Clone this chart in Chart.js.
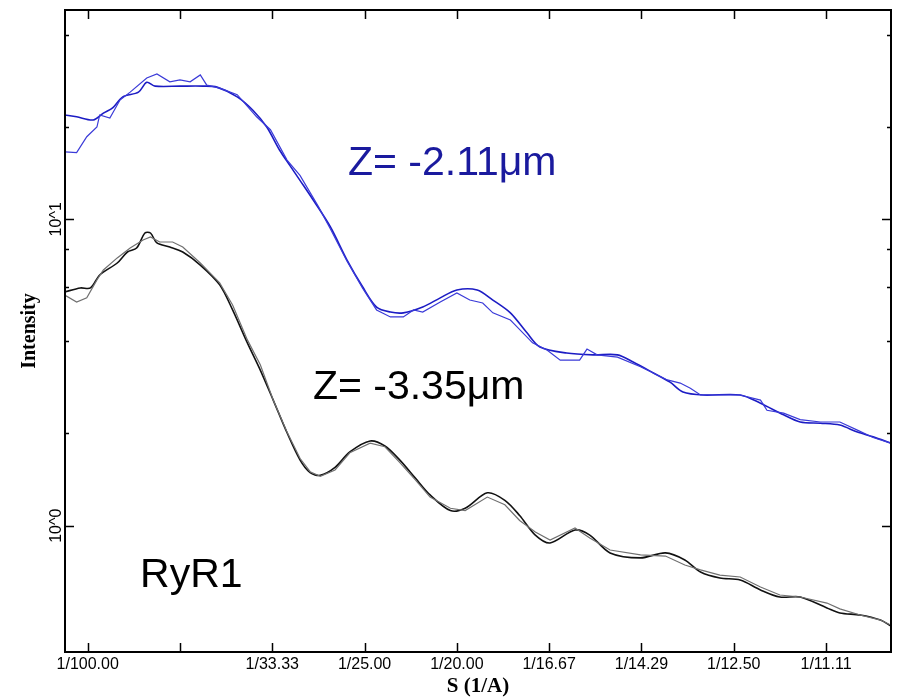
<!DOCTYPE html>
<html>
<head>
<meta charset="utf-8">
<script src="https://cdn.jsdelivr.net/npm/chart.js@4"></script>
<style>
  body { margin: 0; background: #fff; }
  #wrap { width: 899px; height: 699px; }
</style>
</head>
<body>
<div id="wrap"><canvas id="grafico"></canvas></div>
<script>
// S (1/A) e intensidade
const sBlueFit = [0.0075, 0.0088, 0.0106, 0.0117, 0.0127, 0.0138, 0.0155, 0.0164, 0.0173, 0.0200, 0.0225, 0.0240, 0.0262, 0.0279, 0.0294, 0.0308, 0.0319, 0.0330, 0.0344, 0.0363, 0.0381, 0.0398, 0.0413, 0.0428, 0.0442, 0.0463, 0.0482, 0.0500, 0.0522, 0.0539, 0.0558, 0.0576, 0.0590, 0.0619, 0.0648, 0.0674, 0.0691, 0.0713, 0.0731, 0.0745, 0.0767, 0.0807, 0.0829, 0.0854, 0.0872, 0.0894, 0.0915, 0.0934, 0.0951, 0.0970];
const iBlueFit = [21.9, 21.6, 21.1, 22.2, 23.1, 25.1, 26.0, 28.0, 27.2, 27.2, 27.2, 27.0, 25.1, 22.7, 20.0, 16.8, 15.0, 13.4, 11.6, 9.44, 7.36, 6.01, 5.17, 4.98, 4.95, 5.17, 5.54, 5.88, 5.88, 5.45, 4.95, 4.26, 3.83, 3.66, 3.61, 3.61, 3.42, 3.15, 2.94, 2.73, 2.67, 2.67, 2.51, 2.30, 2.18, 2.16, 2.13, 2.02, 1.95, 1.86];

const sBlueData = [0.0075, 0.0088, 0.0099, 0.0110, 0.0113, 0.0124, 0.0135, 0.0146, 0.0164, 0.0175, 0.0189, 0.0200, 0.0211, 0.0222, 0.0229, 0.0243, 0.0262, 0.0283, 0.0298, 0.0316, 0.0330, 0.0350, 0.0363, 0.0381, 0.0398, 0.0413, 0.0428, 0.0442, 0.0453, 0.0463, 0.0482, 0.0500, 0.0514, 0.0528, 0.0539, 0.0558, 0.0561, 0.0582, 0.0598, 0.0612, 0.0633, 0.0641, 0.0652, 0.0674, 0.0699, 0.0728, 0.0742, 0.0753, 0.0764, 0.0807, 0.0829, 0.0836, 0.0854, 0.0872, 0.0894, 0.0915, 0.0934, 0.0951, 0.0970];
const iBlueData = [16.6, 16.5, 18.6, 20.0, 21.9, 21.4, 24.5, 26.0, 28.9, 29.8, 28.1, 28.5, 28.1, 29.6, 27.4, 26.8, 25.5, 21.6, 19.6, 15.6, 13.9, 11.0, 9.3, 7.3, 5.95, 5.06, 4.80, 4.80, 5.06, 4.98, 5.37, 5.75, 5.45, 5.33, 4.95, 4.69, 4.59, 3.95, 3.74, 3.47, 3.47, 3.77, 3.61, 3.55, 3.30, 2.99, 2.92, 2.81, 2.67, 2.67, 2.57, 2.38, 2.33, 2.22, 2.18, 2.18, 2.05, 1.94, 1.86];

const sBlackFit = [0.0075, 0.0092, 0.0103, 0.0113, 0.0132, 0.0143, 0.0153, 0.0162, 0.0168, 0.0175, 0.0189, 0.0203, 0.0222, 0.0243, 0.0257, 0.0273, 0.0287, 0.0301, 0.0316, 0.0330, 0.0341, 0.0352, 0.0368, 0.0384, 0.0406, 0.0422, 0.0438, 0.0455, 0.0471, 0.0493, 0.0509, 0.0533, 0.0552, 0.0568, 0.0585, 0.0601, 0.0628, 0.0644, 0.0666, 0.0699, 0.0726, 0.0747, 0.0764, 0.0785, 0.0807, 0.0829, 0.0850, 0.0872, 0.0901, 0.0915, 0.0937, 0.0959, 0.0970];
const iBlackFit = [5.79, 5.97, 5.97, 6.58, 7.20, 7.82, 8.06, 9.02, 9.02, 8.37, 8.12, 7.82, 7.09, 6.11, 5.06, 3.95, 3.22, 2.57, 2.01, 1.64, 1.49, 1.46, 1.55, 1.74, 1.89, 1.82, 1.64, 1.43, 1.26, 1.12, 1.14, 1.28, 1.21, 1.08, 0.932, 0.878, 0.968, 0.932, 0.815, 0.785, 0.815, 0.773, 0.706, 0.675, 0.665, 0.617, 0.585, 0.585, 0.539, 0.519, 0.511, 0.492, 0.471];

const sGrayData = [0.0075, 0.0088, 0.0099, 0.0110, 0.0117, 0.0132, 0.0146, 0.0160, 0.0168, 0.0178, 0.0192, 0.0203, 0.0222, 0.0243, 0.0257, 0.0273, 0.0287, 0.0301, 0.0316, 0.0330, 0.0341, 0.0352, 0.0368, 0.0384, 0.0406, 0.0422, 0.0438, 0.0455, 0.0471, 0.0493, 0.0509, 0.0533, 0.0552, 0.0568, 0.0585, 0.0601, 0.0628, 0.0644, 0.0666, 0.0699, 0.0726, 0.0747, 0.0764, 0.0785, 0.0807, 0.0829, 0.0850, 0.0872, 0.0901, 0.0915, 0.0937, 0.0959, 0.0970];
const iGrayData = [5.66, 5.37, 5.54, 6.34, 6.83, 7.48, 8.06, 8.56, 8.76, 8.43, 8.43, 8.12, 7.20, 6.20, 5.25, 4.04, 3.35, 2.57, 2.02, 1.66, 1.50, 1.45, 1.52, 1.73, 1.86, 1.81, 1.61, 1.41, 1.24, 1.14, 1.12, 1.24, 1.17, 1.04, 0.954, 0.898, 0.983, 0.912, 0.833, 0.803, 0.796, 0.744, 0.717, 0.690, 0.680, 0.631, 0.594, 0.585, 0.559, 0.535, 0.511, 0.492, 0.474];

// eixos
const xTickVals = [0.01, 0.02, 0.03, 0.04, 0.05, 0.06, 0.07, 0.08, 0.09];
const xTickLabels = ['1/100.00', '', '1/33.33', '1/25.00', '1/20.00', '1/16.67', '1/14.29', '1/12.50', '1/11.11'];
const yMajorVals = [1, 10];
const yMajorLabels = ['10^0', '10^1'];
const yMinorVals = [2, 4, 6, 8, 20, 40];

// textos dentro do gráfico: [texto, S, intensidade, cor]
const notes = [
  ['Z= -2.11\u03bcm', 0.0382, 13.95, '#1a1a9e'],
  ['Z= -3.35\u03bcm', 0.0344, 2.59, '#000000'],
  ['RyR1', 0.01567, 0.631, '#000000']
];

const pts = (xs, ys) => xs.map((x, i) => ({ x: x, y: ys[i] }));

const framePlugin = {
  id: 'frame',
  afterDatasetsDraw(chart) {
    const { ctx, chartArea: a, scales } = chart;
    const xs = scales.x, ys = scales.y;
    ctx.save();
    ctx.strokeStyle = '#000';
    ctx.lineWidth = 2;
    ctx.strokeRect(a.left, a.top, a.right - a.left, a.bottom - a.top);

    ctx.lineWidth = 1.5;
    ctx.beginPath();
    xTickVals.forEach(v => {
      const px = Math.round(xs.getPixelForValue(v)) + 0.5;
      ctx.moveTo(px, a.bottom); ctx.lineTo(px, a.bottom - 9);
      ctx.moveTo(px, a.top); ctx.lineTo(px, a.top + 9);
    });
    yMajorVals.forEach(v => {
      const py = Math.round(ys.getPixelForValue(v)) + 0.5;
      ctx.moveTo(a.left, py); ctx.lineTo(a.left + 9, py);
      ctx.moveTo(a.right, py); ctx.lineTo(a.right - 9, py);
    });
    yMinorVals.forEach(v => {
      const py = Math.round(ys.getPixelForValue(v)) + 0.5;
      ctx.moveTo(a.left, py); ctx.lineTo(a.left + 4, py);
      ctx.moveTo(a.right, py); ctx.lineTo(a.right - 4, py);
    });
    ctx.stroke();

    // rótulos do eixo y, na vertical
    ctx.fillStyle = '#000';
    ctx.font = '16px "Liberation Sans", Arial, sans-serif';
    ctx.textAlign = 'center';
    ctx.textBaseline = 'middle';
    yMajorVals.forEach((v, i) => {
      ctx.save();
      ctx.translate(a.left - 8, ys.getPixelForValue(v));
      ctx.rotate(-Math.PI / 2);
      ctx.fillText(yMajorLabels[i], 0, 0);
      ctx.restore();
    });

    // anotações
    ctx.font = '41px "Liberation Sans", Arial, sans-serif';
    ctx.textAlign = 'left';
    ctx.textBaseline = 'alphabetic';
    notes.forEach(n => {
      ctx.fillStyle = n[3];
      ctx.fillText(n[0], xs.getPixelForValue(n[1]), ys.getPixelForValue(n[2]));
    });
    ctx.restore();
  }
};

const ctx = document.getElementById('grafico').getContext('2d');
const grafico = new Chart(ctx, {
  type: 'line',
  data: {
    datasets: [
      { label: 'Z=-2.11 dados', data: pts(sBlueData, iBlueData), borderColor: '#3a3ad8', borderWidth: 1.2, tension: 0 },
      { label: 'Z=-2.11 ajuste', data: pts(sBlueFit, iBlueFit), borderColor: '#1c1cc4', borderWidth: 1.6, tension: 0.3 },
      { label: 'Z=-3.35 dados', data: pts(sGrayData, iGrayData), borderColor: '#707070', borderWidth: 1.2, tension: 0 },
      { label: 'Z=-3.35 ajuste', data: pts(sBlackFit, iBlackFit), borderColor: '#111111', borderWidth: 1.6, tension: 0.3 }
    ]
  },
  options: {
    responsive: true,
    maintainAspectRatio: false,
    animation: false,
    events: [],
    layout: { padding: { top: 10, right: 8, left: 0, bottom: 0 } },
    elements: { point: { radius: 0 }, line: { fill: false } },
    plugins: { legend: { display: false }, tooltip: { enabled: false } },
    scales: {
      x: {
        type: 'linear',
        min: 0.00754,
        max: 0.09704,
        afterBuildTicks: (scale) => { scale.ticks = xTickVals.map(v => ({ value: v })); },
        afterFit: (scale) => { scale.height = 47; },
        grid: { display: false },
        border: { display: false },
        ticks: {
          autoSkip: false,
          maxRotation: 0,
          padding: -5,
          color: '#000',
          font: { family: '"Liberation Sans", Arial, sans-serif', size: 16 },
          callback: (value, index) => xTickLabels[index]
        },
        title: {
          display: true,
          text: 'S (1/A)',
          color: '#000',
          font: { family: '"Liberation Serif", "Times New Roman", serif', size: 21, weight: 'bold' },
          padding: { top: 0, bottom: 0 }
        }
      },
      y: {
        type: 'logarithmic',
        min: 0.387,
        max: 48.2,
        afterFit: (scale) => { scale.width = 65; },
        grid: { display: false },
        border: { display: false },
        ticks: { display: false },
        title: {
          display: true,
          text: 'Intensity',
          color: '#000',
          font: { family: '"Liberation Serif", "Times New Roman", serif', size: 20, weight: 'bold' },
          padding: { top: 18, bottom: 0 }
        }
      }
    }
  },
  plugins: [framePlugin]
});
</script>
</body>
</html>
